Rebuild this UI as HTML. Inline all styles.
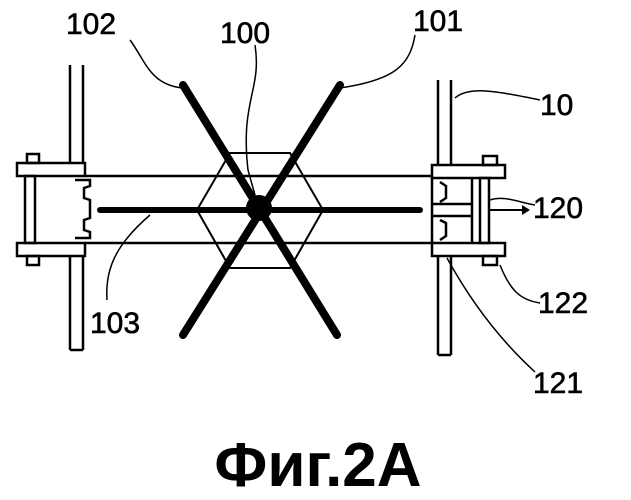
<!DOCTYPE html>
<html><head><style>html,body{margin:0;padding:0;background:#fff}svg{display:block}</style></head>
<body>
<svg width="631" height="500" viewBox="0 0 631 500" xmlns="http://www.w3.org/2000/svg" font-family="Liberation Sans, sans-serif">
<g fill="none" stroke="#000" stroke-width="2.5">
<path d="M70 65 V163 M83 65 V163 M70 256 V350 M83 256 V350 M70 350 H83"/>
<rect x="17" y="163" width="68" height="13" fill="#fff"/>
<rect x="17" y="243" width="68" height="13" fill="#fff"/>
<rect x="25" y="176" width="10" height="67"/>
<rect x="27" y="154" width="12" height="9"/>
<rect x="27" y="256" width="12" height="9"/>
<path d="M85 176 H435 M85 243 H435"/>
<path d="M75 180 H90 V186 L84 188 V198 L90 200 V218 L84 220 V230 L90 232 V238 H75"/>
<path d="M438 80 V165 M451 80 V165 M438 256 V355 M451 256 V355 M438 355 H451"/>
<rect x="432" y="165" width="73" height="13" fill="#fff"/>
<rect x="432" y="243" width="73" height="13" fill="#fff"/>
<rect x="480" y="178" width="9" height="65"/>
<rect x="483" y="156" width="14" height="9"/>
<rect x="483" y="256" width="14" height="9"/>
<path d="M432 178 V243 M472 178 V243 M432 204 H472 M432 216 H472"/>
<path d="M440 182 L446 186 V198 L440 202 M440 220 L446 223 V236 L440 240"/>
<polygon points="230,153 290,153 323,210 290,268 230,268 197,210" fill="none" stroke-width="2"/>
<path d="M490 210 H522" stroke-width="2"/>
</g>
<polygon points="522,205 530,210 522,215" fill="#000"/>
<g stroke="#000" stroke-linecap="round">
<line x1="183" y1="85" x2="337" y2="335" stroke-width="8"/>
<line x1="340" y1="85" x2="183" y2="335" stroke-width="8"/>
<line x1="100" y1="210" x2="420" y2="210" stroke-width="6"/>
</g>
<circle cx="259" cy="208" r="13" fill="#000"/>
<g fill="none" stroke="#000" stroke-width="1.5">
<path d="M130 40 C145 60 150 85 183 88"/>
<path d="M255 45 C262 90 240 100 248 170 L255 195"/>
<path d="M415 35 C410 65 395 80 340 88"/>
<path d="M455 98 C470 85 500 92 540 100"/>
<path d="M490 200 C505 195 520 203 535 205"/>
<path d="M500 265 C510 290 520 300 540 303"/>
<path d="M447 258 C470 300 500 340 535 372"/>
<path d="M107 300 C105 270 115 245 150 215"/>
</g>
<g font-size="30" fill="#000" stroke="#000" stroke-width="0.6">
<text x="66" y="34">102</text>
<text x="220" y="43">100</text>
<text x="413" y="31">101</text>
<text x="540" y="115">10</text>
<text x="533" y="218">120</text>
<text x="538" y="313">122</text>
<text x="533" y="393">121</text>
<text x="90" y="333">103</text>
</g>
<text x="318" y="486" font-size="62" font-weight="bold" text-anchor="middle" fill="#000">Фиг.2А</text>
</svg>
</body></html>
